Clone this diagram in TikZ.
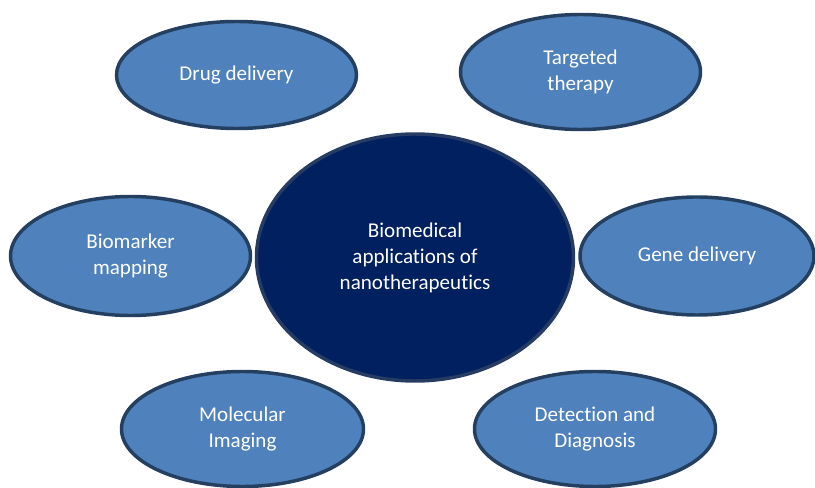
\documentclass[tikz,border=0pt]{standalone}
\usepackage{fontspec}
\setmainfont{Carlito}[Ligatures={NoCommon}]
\usepackage{xcolor}
\usetikzlibrary{shapes.geometric}

\definecolor{bubblefill}{RGB}{79,129,189}
\definecolor{bubbleline}{RGB}{36,63,96}
\definecolor{corefill}{RGB}{0,32,96}
\definecolor{coreline}{RGB}{38,60,98}

\tikzset{
  appbubble/.style={ellipse, draw=bubbleline, fill=bubblefill, line width=2.6pt,
    inner sep=0pt, align=center, text=white, font=\fontsize{15.8}{19.5}\selectfont},
  corebubble/.style={appbubble, draw=coreline, fill=corefill}
}

\begin{document}
\begin{tikzpicture}[x=0.75pt,y=0.75pt,yscale=-1,xscale=1]
\useasboundingbox (0,0) rectangle (815,488);

% centre
\node [corebubble, minimum width=237.75pt, minimum height=185.25pt] (core) at (415,257.5) {Biomedical\\applications of\\nanotherapeutics};

% top row
\node [appbubble, minimum width=180pt, minimum height=80.25pt] (drug) at (236.5,75) {Drug delivery};
\node [appbubble, minimum width=180pt, minimum height=86.25pt] (target) at (580.5,72) {Targeted\\therapy};

% middle row
\node [appbubble, minimum width=180pt, minimum height=89.25pt] (marker) at (130.5,256) {Biomarker\\mapping};
\node [appbubble, minimum width=175.5pt, minimum height=88.5pt] (gene) at (697,256) {Gene delivery};

% bottom row
\node [appbubble, minimum width=181.5pt, minimum height=86.25pt] (imaging) at (242.5,429) {Molecular\\Imaging};
\node [appbubble, minimum width=180.75pt, minimum height=86.25pt] (detect) at (595,429) {Detection and\\Diagnosis};

\end{tikzpicture}
\end{document}
